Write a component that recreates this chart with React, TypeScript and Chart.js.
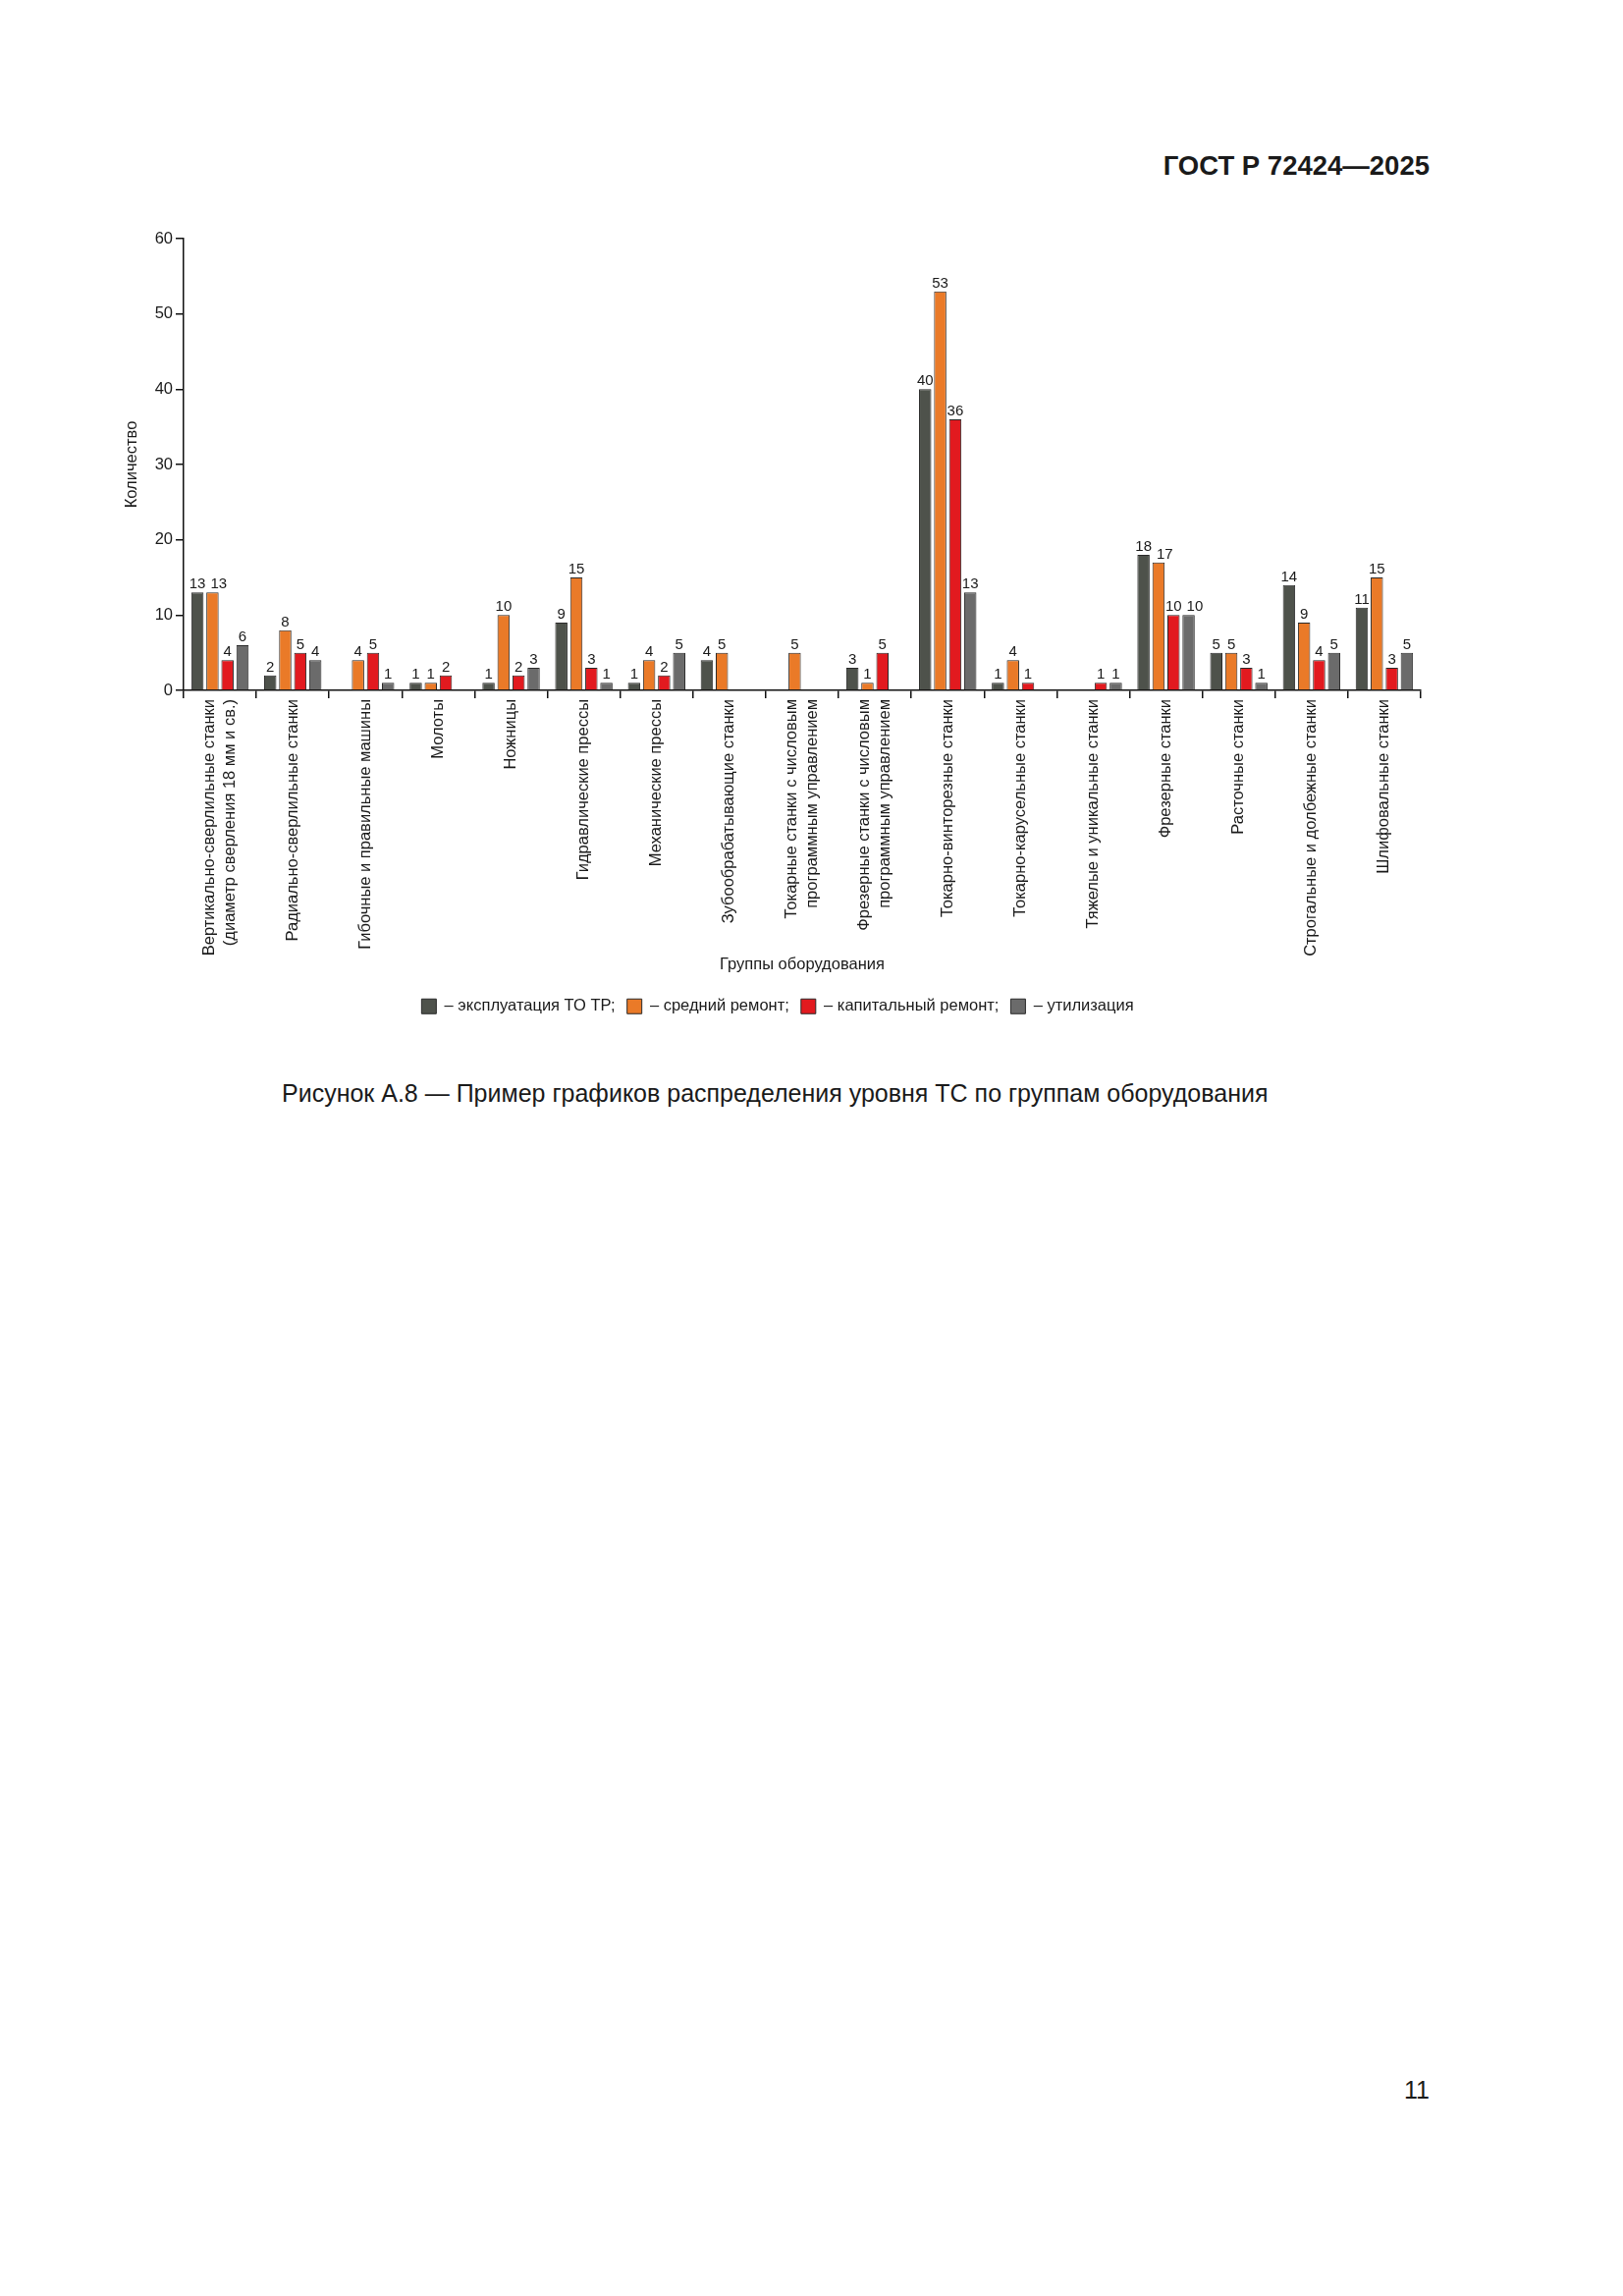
import React, { useEffect, useRef } from 'react';
import { Chart, registerables } from 'chart.js';

Chart.register(...registerables);

const FONT = '"Liberation Sans", Arial, Helvetica, sans-serif';

const categories: (string | string[])[] = [
  ['Вертикально-сверлильные станки', '(диаметр сверления 18 мм и св.)'],
  'Радиально-сверлильные станки',
  'Гибочные и правильные машины',
  'Молоты',
  'Ножницы',
  'Гидравлические прессы',
  'Механические прессы',
  'Зубообрабатывающие станки',
  ['Токарные станки с числовым', 'программным управлением'],
  ['Фрезерные станки с числовым', 'программным управлением'],
  'Токарно-винторезные станки',
  'Токарно-карусельные станки',
  'Тяжелые и уникальные станки',
  'Фрезерные станки',
  'Расточные станки',
  'Строгальные и долбежные станки',
  'Шлифовальные станки',
];

const seriesNames = [
  '– эксплуатация ТО ТР;',
  '– средний ремонт;',
  '– капитальный ремонт;',
  '– утилизация',
];

const exploitation = [13, 2, 0, 1, 1, 9, 1, 4, 0, 3, 40, 1, 0, 18, 5, 14, 11];
const mediumRepair = [13, 8, 4, 1, 10, 15, 4, 5, 5, 1, 53, 4, 0, 17, 5, 9, 15];
const capitalRepair = [4, 5, 5, 2, 2, 3, 2, 0, 0, 5, 36, 1, 1, 10, 3, 4, 3];
const disposal = [6, 4, 1, 0, 3, 1, 5, 0, 0, 0, 13, 0, 1, 10, 1, 5, 5];

const yMin = 0;
const yMax = 60;
const yStep = 10;

const xTitle = 'Группы оборудования';
const yTitle = 'Количество';

const seriesColors = ['#4e524b', '#ea7a28', '#e21a1f', '#6b6b6b'];

const CW = 1500;
const CH = 1043;
const TEXT = '#1a1a1a';

const valueLabels = {
  id: 'valueLabels',
  afterDatasetsDraw(chart: any) {
    const ctx = chart.ctx;
    ctx.save();
    ctx.font = `15px ${FONT}`;
    ctx.fillStyle = TEXT;
    ctx.textAlign = 'center';
    ctx.textBaseline = 'alphabetic';
    const n = chart.data.labels.length;
    for (let j = 0; j < n; j++) {
      const items: { text: string; x: number; y: number; w: number }[] = [];
      chart.data.datasets.forEach((ds: any, i: number) => {
        const v = ds.data[j];
        if (v == null || v === 0) return;
        const el = chart.getDatasetMeta(i).data[j];
        const text = String(v);
        items.push({ text, x: el.x, y: el.y - 4, w: ctx.measureText(text).width });
      });
      for (let k = 1; k < items.length; k++) {
        const prev = items[k - 1];
        const cur = items[k];
        const minDist = (prev.w + cur.w) / 2 + 5;
        if (Math.abs(prev.y - cur.y) < 12 && cur.x - prev.x < minDist) {
          cur.x = prev.x + minDist;
        }
      }
      items.forEach((it) => ctx.fillText(it.text, it.x, it.y));
    }
    ctx.restore();
  },
};

// centre multi-line rotated category labels on their category
const centerMultiline = {
  id: 'centerMultiline',
  beforeDraw(chart: any) {
    const sc = chart.scales.x;
    if (!sc) return;
    const items = sc.getLabelItems();
    items.forEach((it: any) => {
      if (Array.isArray(it.label) && it.label.length > 1 && !it._centred) {
        const lh = (it.font && it.font.lineHeight) || 20.6;
        it.options.translation[0] -= ((it.label.length - 1) * lh) / 2;
        it._centred = true;
      }
    });
  },
};

export default function App() {
  const ref = useRef<HTMLCanvasElement>(null);

  useEffect(() => {
    if (!ref.current) return;
    const allSeries = [exploitation, mediumRepair, capitalRepair, disposal];
    const chart = new Chart(ref.current, {
      type: 'bar',
      data: {
        labels: categories as any,
        datasets: allSeries.map((vals, i) => ({
          label: seriesNames[i],
          data: vals.map((v) => (v === 0 ? null : v)),
          backgroundColor: seriesColors[i],
          borderColor: '#2a2a2a',
          borderWidth: 1,
          categoryPercentage: 0.826,
          barPercentage: 0.817,
        })),
      },
      options: {
        responsive: false,
        animation: false,
        devicePixelRatio: 1,
        layout: { padding: { left: 137, top: 243, right: CW - 1447, bottom: 0 } },
        plugins: {
          legend: {
            position: 'bottom',
            labels: {
              boxWidth: 15,
              boxHeight: 15,
              padding: 12,
              color: TEXT,
              font: { size: 16.5, family: FONT },
            },
          },
          tooltip: { enabled: false },
        },
        scales: {
          x: {
            grid: {
              offset: true,
              drawOnChartArea: false,
              drawTicks: true,
              tickLength: 8,
              color: '#111',
              lineWidth: 1.5,
            },
            border: { display: true, color: '#111', width: 1.5 },
            ticks: {
              autoSkip: false,
              maxRotation: 90,
              minRotation: 90,
              padding: 1,
              color: TEXT,
              font: { size: 16.5, family: FONT, lineHeight: 1.25 },
            },
            title: {
              display: true,
              text: xTitle,
              color: TEXT,
              font: { size: 16.5, family: FONT },
              padding: { top: 0, bottom: 12.6 },
            },
            afterFit: (s: any) => {
              s.height = 301.5;
            },
          },
          y: {
            min: yMin,
            max: yMax,
            ticks: {
              stepSize: yStep,
              padding: 3,
              color: TEXT,
              font: { size: 16.5, family: FONT },
            },
            grid: {
              drawOnChartArea: false,
              drawTicks: true,
              tickLength: 8,
              color: '#111',
              lineWidth: 1.5,
            },
            border: { display: true, color: '#111', width: 1.5 },
            title: {
              display: true,
              text: yTitle,
              color: TEXT,
              font: { size: 16.5, family: FONT },
              padding: { top: -12, bottom: 0 },
            },
            afterFit: (s: any) => {
              s.width = 50;
            },
          },
        },
      } as any,
      plugins: [valueLabels, centerMultiline],
    });
    return () => chart.destroy();
  }, []);

  return (
    <div
      style={{
        position: 'absolute',
        left: 0,
        top: 0,
        width: 1653,
        height: 2338,
        background: '#fff',
        overflow: 'hidden',
        fontFamily: FONT,
        color: TEXT,
      }}
    >
      <div
        style={{
          position: 'absolute',
          right: 197,
          top: 155,
          fontSize: 27.5,
          fontWeight: 'bold',
          lineHeight: '27.5px',
          whiteSpace: 'nowrap',
        }}
      >
        ГОСТ Р 72424—2025
      </div>
      <canvas
        ref={ref}
        width={CW}
        height={CH}
        style={{ position: 'absolute', left: 0, top: 0, width: CW, height: CH }}
      />
      <div
        style={{
          position: 'absolute',
          left: 287,
          top: 1101,
          fontSize: 25,
          lineHeight: '25px',
          whiteSpace: 'nowrap',
        }}
      >
        Рисунок А.8 — Пример графиков распределения уровня ТС по группам оборудования
      </div>
      <div
        style={{
          position: 'absolute',
          right: 197,
          top: 2116,
          fontSize: 25,
          lineHeight: '25px',
        }}
      >
        11
      </div>
    </div>
  );
}
